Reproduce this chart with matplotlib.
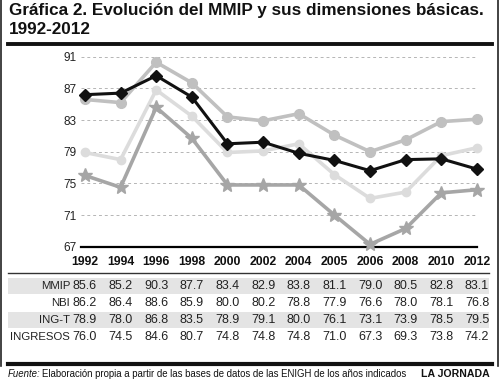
import matplotlib
matplotlib.use("Agg")
import matplotlib.pyplot as plt
import matplotlib.transforms as mtransforms
from matplotlib.lines import Line2D
from matplotlib.patches import Rectangle

years = ["1992", "1994", "1996", "1998", "2000", "2002", "2004", "2005", "2006", "2008", "2010", "2012"]
mmip = [85.6, 85.2, 90.3, 87.7, 83.4, 82.9, 83.8, 81.1, 79.0, 80.5, 82.8, 83.1]
nbi = [86.2, 86.4, 88.6, 85.9, 80.0, 80.2, 78.8, 77.9, 76.6, 78.0, 78.1, 76.8]
ing_t = [78.9, 78.0, 86.8, 83.5, 78.9, 79.1, 80.0, 76.1, 73.1, 73.9, 78.5, 79.5]
ingresos = [76.0, 74.5, 84.6, 80.7, 74.8, 74.8, 74.8, 71.0, 67.3, 69.3, 73.8, 74.2]
row_labels = ["MMIP", "NBI", "ING-T", "INGRESOS"]
yticks = [67, 71, 75, 79, 83, 87, 91]

plt.rcParams['font.family'] = ['Liberation Sans', 'DejaVu Sans']

W, H = 500, 381
fig = plt.figure(figsize=(5, 3.81), dpi=100)

def fx(px):
    return px / W

def fy(py):
    return 1 - py / H

ax = fig.add_axes([fx(81), fy(246.7), fx(477) - fx(81), fy(56.7) - fy(246.7)])
x = list(range(len(years)))
ax.set_xlim(-0.11, 11.0)
ax.set_ylim(67, 91)

for v in yticks[1:]:
    ax.axhline(v, color="#b5b5b5", lw=0.7, ls=(0, (3, 3)), zorder=0)

ax.plot(x, ing_t, color="#dcdcdc", lw=2.6, marker="o", ms=6, clip_on=False, zorder=2)
ax.plot(x, ingresos, color="#a6a6a6", lw=2.6, marker="*", ms=10, clip_on=False, zorder=3)
ax.plot(x, mmip, color="#c0c0c0", lw=2.6, marker="o", ms=7, clip_on=False, zorder=4)
ax.plot(x, nbi, color="#111111", lw=2.2, marker="D", ms=6, clip_on=False, zorder=5)

for s in ["top", "right", "left"]:
    ax.spines[s].set_visible(False)
ax.spines["bottom"].set_color("black")
ax.spines["bottom"].set_linewidth(1.6)
ax.set_yticks(yticks)
ax.set_yticklabels([str(v) for v in yticks])
ax.tick_params(axis="y", length=0, pad=3, labelsize=8.5, colors="#222222")
ax.set_xticks([])

# table using x data coords, y figure coords
trans = mtransforms.blended_transform_factory(ax.transData, fig.transFigure)
for i, yr in enumerate(years):
    fig.text(i, fy(262), yr, transform=trans, ha="center", va="center",
             fontsize=8.8, fontweight="bold", color="#111111")

fig.add_artist(Line2D([fx(8), fx(489)], [fy(273), fy(273)], color="#333333", lw=1.0))

row_y = [286, 303, 320, 337]
series = [mmip, nbi, ing_t, ingresos]
for r, (lab, vals, ry) in enumerate(zip(row_labels, series, row_y)):
    if r % 2 == 0:
        fig.add_artist(Rectangle((fx(8), fy(ry + 8)), fx(489) - fx(8), fy(ry - 8) - fy(ry + 8),
                                 facecolor="#e4e4e4", edgecolor="none", zorder=0))
    fig.text(fx(70), fy(ry), lab, ha="right", va="center", fontsize=8.2, color="#222222")
    for i, v in enumerate(vals):
        fig.text(i, fy(ry), f"{v:.1f}", transform=trans, ha="center", va="center",
                 fontsize=9, color="#222222")

# title
fig.text(fx(9), fy(10), "Gráfica 2. Evolución del MMIP y sus dimensiones básicas.",
         ha="left", va="center", fontsize=12.3, fontweight="bold", color="#111111")
fig.text(fx(9), fy(30), "1992-2012", ha="left", va="center", fontsize=12.3,
         fontweight="bold", color="#111111")

# rules
fig.add_artist(Line2D([fx(8), fx(492)], [fy(43.5), fy(43.5)], color="#111111", lw=2.8))
fig.add_artist(Line2D([fx(8), fx(492)], [fy(363.5), fy(363.5)], color="#111111", lw=3.0))
fig.add_artist(Line2D([fx(1), fx(1)], [fy(0), fy(366)], color="#222222", lw=1.2))
fig.add_artist(Line2D([fx(497.5), fx(497.5)], [fy(0), fy(366)], color="#222222", lw=1.2))

# source
t1 = fig.text(fx(8), fy(374), "Fuente:", ha="left", va="center", fontsize=6.9,
              style="italic", color="#111111")
fig.canvas.draw()
bb = t1.get_window_extent()
fig.text(bb.x1 / fig.dpi / fig.get_figwidth() + fx(1.5), fy(374),
         "Elaboración propia a partir de las bases de datos de las ENIGH de los años indicados",
         ha="left", va="center", fontsize=6.9, color="#111111")
fig.text(fx(490), fy(374), "LA JORNADA", ha="right", va="center", fontsize=7.6,
         fontweight="bold", color="#111111")

fig.savefig("out.png", dpi=100)
